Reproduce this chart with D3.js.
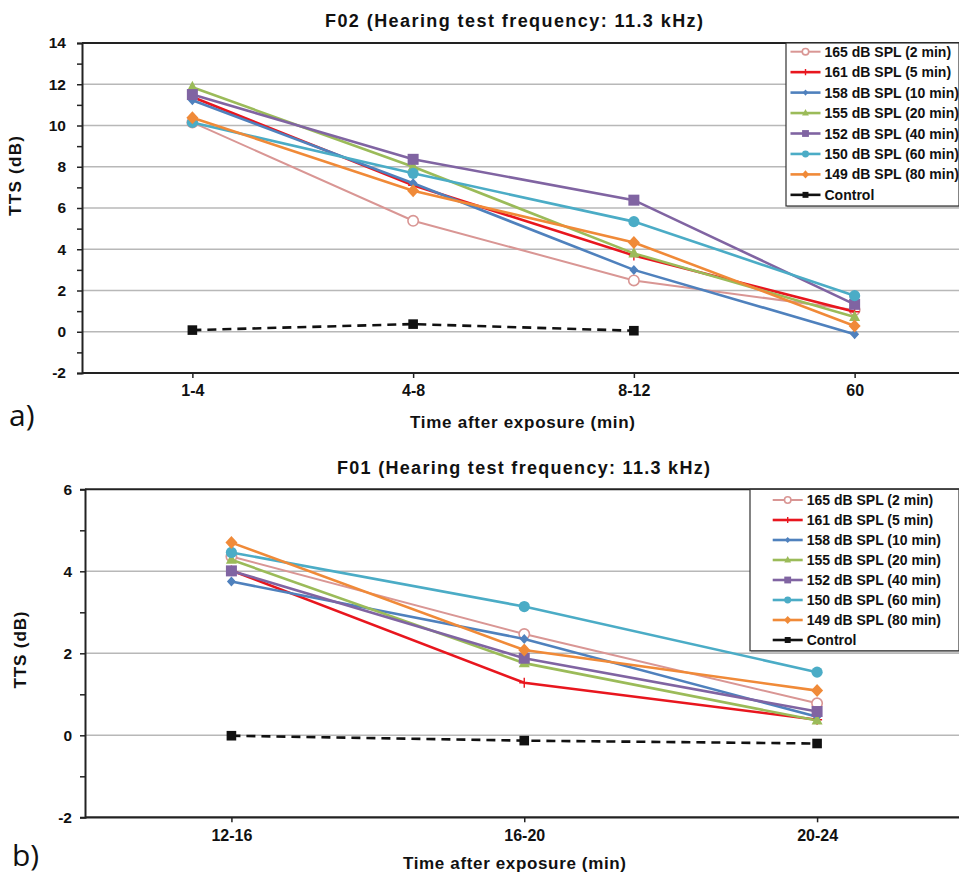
<!DOCTYPE html>
<html>
<head>
<meta charset="utf-8">
<script src="https://cdn.jsdelivr.net/npm/d3@7/dist/d3.min.js"></script>
<style>
  html, body { margin: 0; padding: 0; background: #fff; }
  svg { display: block; font-family: "Liberation Sans", Arial, sans-serif; }
</style>
</head>
<body>
<svg id="chart" width="959" height="874"></svg>
<script>
// ---------- DATA ----------
const seriesNames = ["165 dB SPL (2 min)", "161 dB SPL (5 min)", "158 dB SPL (10 min)", "155 dB SPL (20 min)",
                     "152 dB SPL (40 min)", "150 dB SPL (60 min)", "149 dB SPL (80 min)", "Control"];

// Panel a) F02
const catsA = ["1-4", "4-8", "8-12", "60"];
const a165 = [10.15, 5.38, 2.49, 1.05];
const a161 = [11.38, 7.10, 3.70, 0.97];
const a158 = [11.22, 7.20, 3.00, -0.12];
const a155 = [11.85, 8.00, 3.80, 0.72];
const a152 = [11.50, 8.36, 6.38, 1.33];
const a150 = [10.15, 7.68, 5.34, 1.75];
const a149 = [10.38, 6.84, 4.33, 0.28];
const aCtrl = [0.08, 0.37, 0.05, null];
const yTicksA = [-2, 0, 2, 4, 6, 8, 10, 12, 14];

// Panel b) F01
const catsB = ["12-16", "16-20", "20-24"];
const b165 = [4.36, 2.47, 0.78];
const b161 = [4.02, 1.28, 0.38];
const b158 = [3.75, 2.35, 0.45];
const b155 = [4.28, 1.76, 0.36];
const b152 = [4.01, 1.88, 0.58];
const b150 = [4.46, 3.14, 1.54];
const b149 = [4.70, 2.08, 1.09];
const bCtrl = [-0.01, -0.13, -0.20];
const yTicksB = [-2, 0, 2, 4, 6];

// ---------- STYLE ----------
const colors = ["#D99694", "#E8161E", "#4F81BD", "#9BBB59", "#8064A2", "#4BACC6", "#F08A38", "#111111"];
const markers = ["ocircle", "plus", "sdiamond", "triangle", "square", "circle", "diamond", "csquare"];
const widths = [2, 2.6, 2.6, 2.6, 2.6, 2.6, 2.6, 2.6];

const svg = d3.select("#chart");

function drawMarker(g, type, x, y, color, s) {
  switch (type) {
    case "ocircle":
      g.append("circle").attr("cx", x).attr("cy", y).attr("r", 5.2 * s)
        .attr("fill", "#fff").attr("stroke", color).attr("stroke-width", 1.6);
      break;
    case "circle":
      g.append("circle").attr("cx", x).attr("cy", y).attr("r", 5.6 * s).attr("fill", color);
      break;
    case "plus":
      g.append("path").attr("d", `M${x - 5 * s},${y}H${x + 5 * s}M${x},${y - 5 * s}V${y + 5 * s}`)
        .attr("stroke", color).attr("stroke-width", 1.4);
      break;
    case "sdiamond":
      g.append("path").attr("d", `M${x},${y - 5 * s}L${x + 4.5 * s},${y}L${x},${y + 5 * s}L${x - 4.5 * s},${y}Z`).attr("fill", color);
      break;
    case "diamond":
      g.append("path").attr("d", `M${x},${y - 6.5 * s}L${x + 6 * s},${y}L${x},${y + 6.5 * s}L${x - 6 * s},${y}Z`).attr("fill", color);
      break;
    case "triangle":
      g.append("path").attr("d", `M${x},${y - 6.5 * s}L${x + 5.5 * s},${y + 4 * s}L${x - 5.5 * s},${y + 4 * s}Z`).attr("fill", color);
      break;
    case "square":
      g.append("rect").attr("x", x - 5.5 * s).attr("y", y - 5.5 * s).attr("width", 11 * s).attr("height", 11 * s).attr("fill", color);
      break;
    case "csquare":
      g.append("rect").attr("x", x - 4.8 * s).attr("y", y - 4.8 * s).attr("width", 9.6 * s).attr("height", 9.6 * s).attr("fill", color);
      break;
  }
}

function drawPanel(cfg) {
  const g = svg.append("g");
  const x = d3.scalePoint().domain(cfg.cats).range([cfg.left, cfg.right]).padding(0.5);
  const y = d3.scaleLinear().domain([cfg.yMin, cfg.yMax]).range([cfg.bottom, cfg.top]);

  // gridlines
  g.append("g").selectAll("line").data(cfg.yTicks.filter(d => d > cfg.yMin && d < cfg.yMax)).join("line")
    .attr("x1", cfg.left).attr("x2", 959).attr("y1", d => y(d)).attr("y2", d => y(d))
    .attr("stroke", "#b8b8b8").attr("stroke-width", 1.4);

  // top border
  g.append("line").attr("x1", cfg.left).attr("x2", 959).attr("y1", cfg.top).attr("y2", cfg.top)
    .attr("stroke", "#222").attr("stroke-width", 2);

  // y axis
  const minor = d3.range(cfg.yMin, cfg.yMax + 0.5, 1);
  const yAxis = d3.axisLeft(y).tickValues(minor).tickSize(5).tickFormat(d => cfg.yTicks.includes(d) ? d : "");
  const ya = g.append("g").attr("transform", `translate(${cfg.left},0)`).call(yAxis);
  ya.select(".domain").attr("stroke", "#222").attr("stroke-width", 2);
  ya.selectAll(".tick line").attr("stroke", "#222").attr("stroke-width", 1.5);
  ya.selectAll(".tick text").attr("font-size", 15.5).attr("font-weight", "bold").attr("fill", "#111")
    .attr("font-family", "Liberation Sans, Arial, sans-serif").attr("x", -cfg.yLabelGap);

  // x axis
  const xAxis = d3.axisBottom(x).tickSize(5).tickSizeOuter(0);
  const xa = g.append("g").attr("transform", `translate(0,${cfg.bottom})`).call(xAxis);
  xa.select(".domain").attr("stroke", "#222").attr("stroke-width", 2.2).attr("d", `M${cfg.left},0H959`);
  xa.selectAll(".tick line").attr("stroke", "#222").attr("stroke-width", 1.5);
  xa.selectAll(".tick text").attr("font-size", 16).attr("font-weight", "bold").attr("fill", "#111")
    .attr("font-family", "Liberation Sans, Arial, sans-serif").attr("y", 12);

  // series
  cfg.series.forEach((vals, i) => {
    const pts = vals.map((v, j) => ({ c: cfg.cats[j], v })).filter(p => p.v !== null);
    const line = d3.line().x(p => x(p.c)).y(p => y(p.v));
    g.append("path").datum(pts).attr("d", line).attr("fill", "none")
      .attr("stroke", colors[i]).attr("stroke-width", widths[i])
      .attr("stroke-dasharray", i === 7 ? "9,6" : null);
    const mg = g.append("g");
    pts.forEach(p => drawMarker(mg, markers[i], x(p.c), y(p.v), colors[i], 1));
  });

  // legend
  const lg = g.append("g");
  lg.append("rect").attr("x", cfg.leg.x + 1).attr("y", cfg.leg.y + 2).attr("width", 959 - cfg.leg.x).attr("height", cfg.leg.h)
    .attr("fill", "#bdbdbd");
  lg.append("rect").attr("x", cfg.leg.x).attr("y", cfg.leg.y).attr("width", 959 - cfg.leg.x).attr("height", cfg.leg.h)
    .attr("fill", "#fff").attr("stroke", "#333").attr("stroke-width", 1.2);
  seriesNames.forEach((name, i) => {
    const ry = cfg.leg.row0 + i * cfg.leg.step;
    lg.append("line").attr("x1", cfg.leg.lx).attr("x2", cfg.leg.lx + 30).attr("y1", ry).attr("y2", ry)
      .attr("stroke", colors[i]).attr("stroke-width", widths[i]);
    drawMarker(lg, markers[i], cfg.leg.lx + 15, ry, colors[i], 0.62);
    lg.append("text").attr("x", cfg.leg.lx + 34).attr("y", ry + 5).attr("font-size", 14).attr("font-weight", "bold")
      .attr("fill", "#111").text(name);
  });

  // titles and labels
  g.append("text").attr("x", cfg.title.x).attr("y", cfg.title.y).attr("font-size", 18).attr("font-weight", "bold")
    .attr("fill", "#111").attr("textLength", cfg.title.w).attr("lengthAdjust", "spacing").text(cfg.title.text);
  g.append("text").attr("x", cfg.xlab.x).attr("y", cfg.xlab.y).attr("font-size", 17).attr("font-weight", "bold")
    .attr("fill", "#111").attr("textLength", cfg.xlab.w).attr("lengthAdjust", "spacing").text("Time after exposure (min)");
  g.append("text").attr("transform", `translate(${cfg.ylab.x},${cfg.ylab.y}) rotate(-90)`).attr("text-anchor", "middle")
    .attr("font-size", 17).attr("font-weight", "bold").attr("fill", "#111")
    .attr("textLength", cfg.ylab.w).attr("lengthAdjust", "spacing").text("TTS (dB)");
  g.append("text").attr("x", cfg.tag.x).attr("y", cfg.tag.y).attr("font-size", 30)
    .attr("font-family", "Open Sans, DejaVu Sans, sans-serif").attr("fill", "#111").text(cfg.tag.text);
}

drawPanel({
  cats: catsA, yMin: -2, yMax: 14, yTicks: yTicksA,
  left: 82, right: 965, top: 43, bottom: 373, yLabelGap: 16,
  series: [a165, a161, a158, a155, a152, a150, a149, aCtrl],
  leg: { x: 786, y: 43, h: 163, row0: 51.7, step: 20.45, lx: 790.5 },
  title: { x: 325, y: 27, w: 378, text: "F02 (Hearing test frequency: 11.3 kHz)" },
  xlab: { x: 410, y: 428, w: 225 },
  ylab: { x: 21, y: 176, w: 80 },
  tag: { x: 9, y: 426, text: "a)" }
});

drawPanel({
  cats: catsB, yMin: -2, yMax: 6, yTicks: yTicksB,
  left: 85, right: 963.5, top: 489.3, bottom: 817.3, yLabelGap: 13,
  series: [b165, b161, b158, b155, b152, b150, b149, bCtrl],
  leg: { x: 750, y: 489.3, h: 161.5, row0: 500, step: 20, lx: 772.7 },
  title: { x: 337, y: 474, w: 373, text: "F01 (Hearing test frequency: 11.3 kHz)" },
  xlab: { x: 403, y: 869, w: 223 },
  ylab: { x: 25.5, y: 650, w: 77 },
  tag: { x: 12, y: 866, text: "b)" }
});
</script>
</body>
</html>
